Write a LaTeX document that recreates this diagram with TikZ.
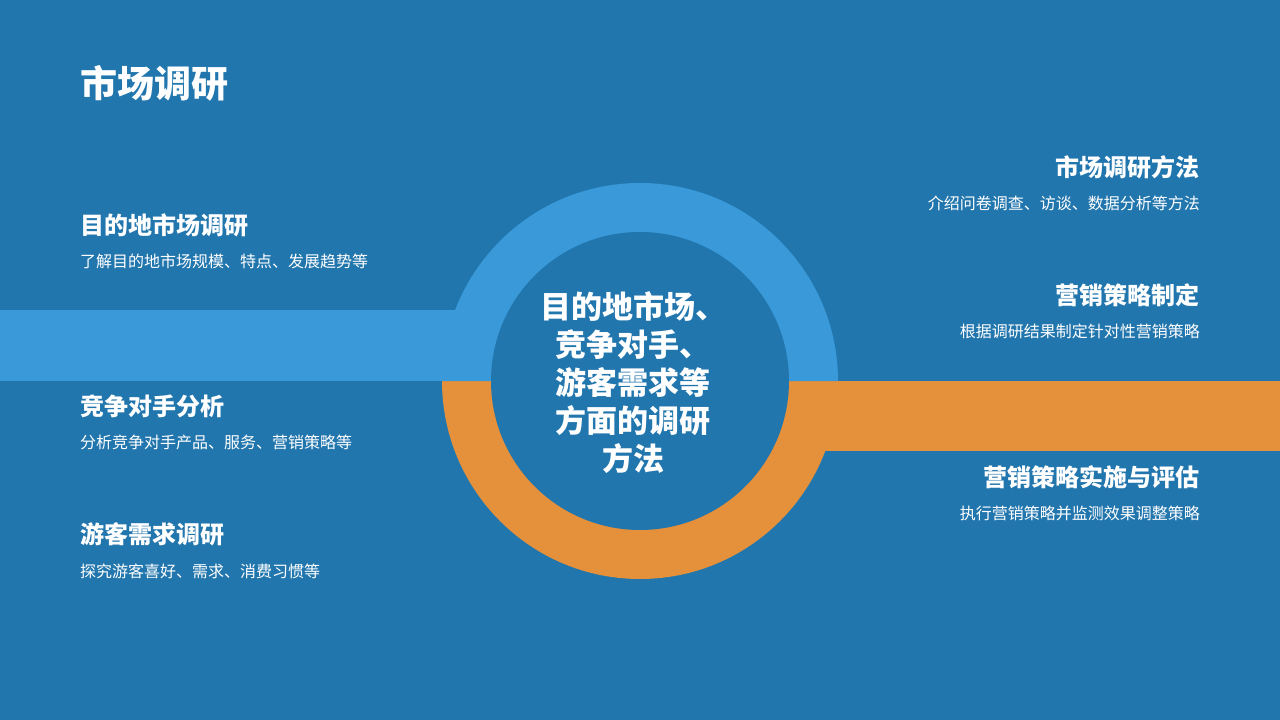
\documentclass[tikz,border=0pt]{standalone}
\usepackage{fontspec}
\setmainfont{Noto Sans CJK SC}
\definecolor{bg}{HTML}{2276AE}
\definecolor{lb}{HTML}{3A9AD9}
\definecolor{og}{HTML}{E5903A}
\begin{document}
\begin{tikzpicture}[x=1pt,y=-1pt,
  hd/.style={text=white,font=\bfseries\fontsize{24}{28}\selectfont,inner sep=0pt},
  ds/.style={text=white,font=\fontsize{16}{19}\selectfont,inner sep=0pt}]
\fill[bg] (0,0) rectangle (1280,720);
\useasboundingbox (0,0) rectangle (1280,720);
% bands
\fill[lb] (0,310) rectangle (500,381);
\fill[og] (780,381) rectangle (1280,451);
% ring halves
\fill[og] (442,381) arc[start angle=180,end angle=0,radius=198] -- cycle;
\fill[lb] (442,381) arc[start angle=180,end angle=360,radius=198] -- cycle;
\fill[bg] (640,381) circle[radius=149];
\node[text=white,font=\bfseries\fontsize{31}{38}\selectfont,align=center] (c) at (633,383) {目的地市场、\\竞争对手、\\游客需求等\\方面的调研\\方法};
\node[text=white,font=\bfseries\fontsize{37}{40}\selectfont,anchor=west,inner sep=0pt] (t) at (80,83) {市场调研};
\node[hd,anchor=west] (l1) at (80,225) {目的地市场调研};
\node[ds,anchor=west] (l1d) at (80,261) {了解目的地市场规模、特点、发展趋势等};
\node[hd,anchor=west] (l2) at (80,406) {竞争对手分析};
\node[ds,anchor=west] (l2d) at (80,442) {分析竞争对手产品、服务、营销策略等};
\node[hd,anchor=west] (l3) at (80,534) {游客需求调研};
\node[ds,anchor=west] (l3d) at (80,571) {探究游客喜好、需求、消费习惯等};
\node[hd,anchor=east] (r1) at (1200,167) {市场调研方法};
\node[ds,anchor=east] (r1d) at (1200,203) {介绍问卷调查、访谈、数据分析等方法};
\node[hd,anchor=east] (r2) at (1200,295) {营销策略制定};
\node[ds,anchor=east] (r2d) at (1200,331) {根据调研结果制定针对性营销策略};
\node[hd,anchor=east] (r3) at (1200,477) {营销策略实施与评估};
\node[ds,anchor=east] (r3d) at (1200,513) {执行营销策略并监测效果调整策略};
\end{tikzpicture}
\end{document}
